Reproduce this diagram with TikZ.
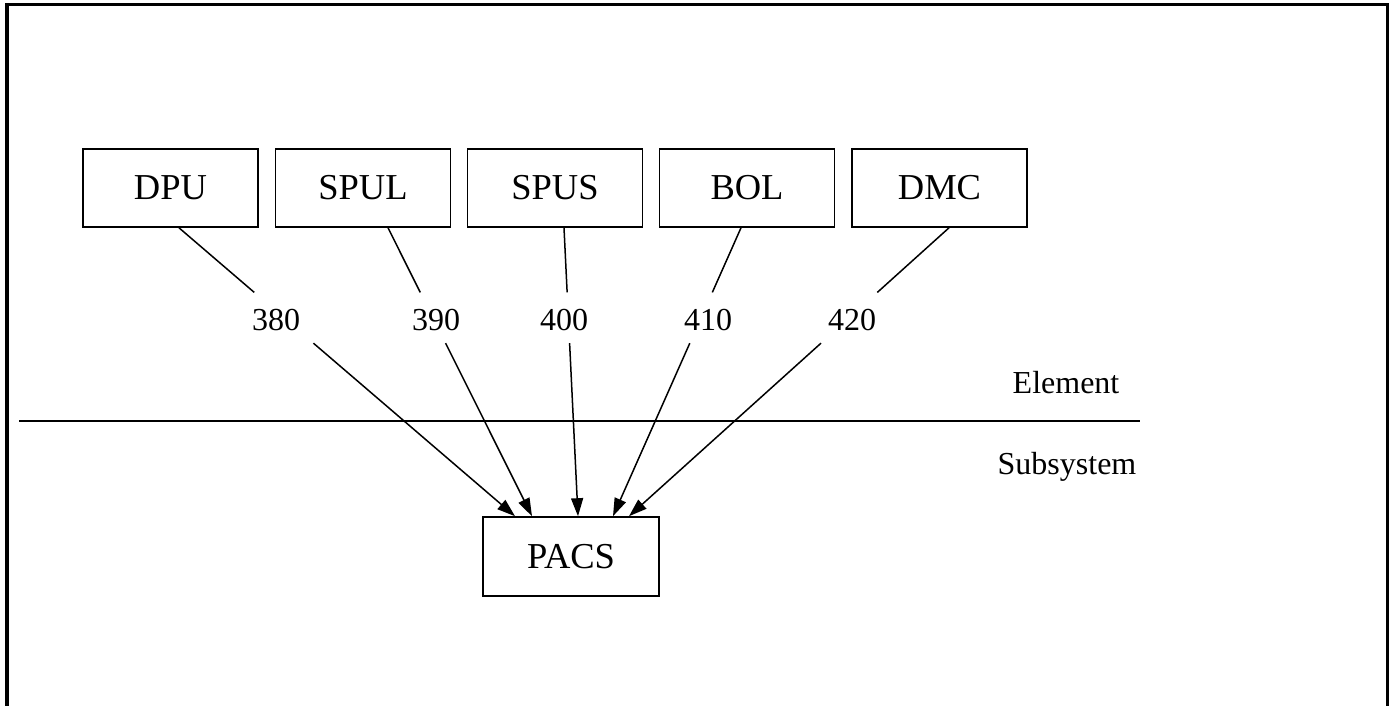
\documentclass[tikz,border=0pt]{standalone}
\usepackage{fontspec}
\setmainfont{Liberation Serif}
\usetikzlibrary{arrows.meta,calc}
\tikzset{
  box/.style={draw, line width=1.6pt, minimum width=175pt, minimum height=78pt, inner sep=0pt, font=\fontsize{36.5}{40}\selectfont},
  lab/.style={inner sep=0pt, anchor=base, font=\fontsize{32}{36}\selectfont},
  conn/.style={line width=1.5pt},
  arr/.style={line width=1.5pt, -{Triangle[length=18pt,width=12pt]}},
}
\begin{document}
\begin{tikzpicture}[x=1pt,y=-1pt]
\useasboundingbox (0,0) rectangle (1392,706);
% frame
\draw[line width=3.2pt] (7,706) -- (7,4.5) -- (1387.5,4.5) -- (1387.5,706);
% level line
\coordinate (hl) at (19,421);
\coordinate (hr) at (1140,421);
\draw[line width=2pt] (hl) -- (hr);
\node[lab] (elem) at (1066,393) {Element};
\node[lab] (subs) at (1067,474) {Subsystem};
% boxes
\node[box] (DPU)  at (170.5,188) {DPU};
\node[box] (SPUL) at (363,188) {SPUL};
\node[box] (SPUS) at (555,188) {SPUS};
\node[box] (BOL)  at (747,188) {BOL};
\node[box] (DMC)  at (939.5,188) {DMC};
\node[box, minimum width=176pt, minimum height=79pt] (PACS) at (571,556.5) {PACS};
% labels
\node[lab] (l380) at (276,330) {380};
\node[lab] (l390) at (436,330) {390};
\node[lab] (l400) at (564,330) {400};
\node[lab] (l410) at (708,330) {410};
\node[lab] (l420) at (852,330) {420};
% connector end points
\coordinate (s1) at ([xshift=8.5pt]DPU.south);
\coordinate (s2) at ([xshift=25pt]SPUL.south);
\coordinate (s3) at ([xshift=9pt]SPUS.south);
\coordinate (s4) at ([xshift=-6pt]BOL.south);
\coordinate (s5) at ([xshift=9.5pt]DMC.south);
\coordinate (e1) at ([xshift=-56pt]PACS.north);
\coordinate (e2) at ([xshift=-39pt]PACS.north);
\coordinate (e3) at ([xshift=7pt]PACS.north);
\coordinate (e4) at ([xshift=42pt]PACS.north);
\coordinate (e5) at ([xshift=58pt]PACS.north);
\foreach \i in {1,...,5}{
  \coordinate (a\i) at ($(s\i)!0.224!(e\i)$);
  \coordinate (b\i) at ($(s\i)!0.40!(e\i)$);
  \draw[conn] (s\i) -- (a\i);
  \draw[arr] (b\i) -- (e\i);
}
\end{tikzpicture}
\end{document}
